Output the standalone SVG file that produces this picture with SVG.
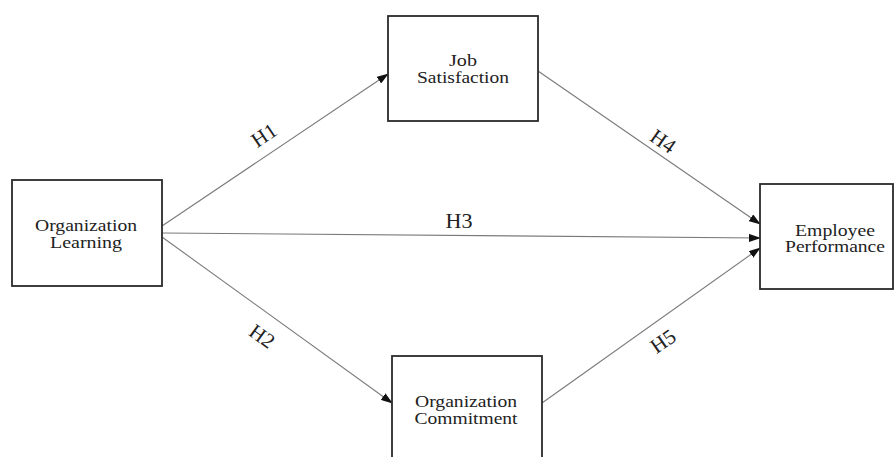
<svg xmlns="http://www.w3.org/2000/svg" width="896" height="457" viewBox="0 0 896 457">
<style>
.box{fill:#fff;stroke:#2a2a2a;stroke-width:1.8}
.t{font-family:"Liberation Serif","Times New Roman",serif;font-size:16px;fill:#222;text-anchor:middle}
.h{font-family:"Liberation Serif","Times New Roman",serif;font-size:21px;fill:#222;text-anchor:middle}
.c{stroke:#7a7a7a;stroke-width:1.1;fill:none;marker-end:url(#ah)}
</style>
<defs>
<marker id="ah" markerWidth="12" markerHeight="8" refX="11" refY="4" orient="auto" markerUnits="userSpaceOnUse">
<path d="M0,0 L12,4 L0,8 Z" fill="#111"/>
</marker>
</defs>
<rect width="896" height="457" fill="#fff"/>
<g id="connectors">
<line class="c" x1="162" y1="226" x2="388" y2="74"/>
<line class="c" x1="162" y1="233" x2="760" y2="238"/>
<line class="c" x1="162" y1="237" x2="392" y2="403"/>
<line class="c" x1="538" y1="71" x2="760" y2="224"/>
<line class="c" x1="542" y1="403" x2="760" y2="248"/>
<text class="h" transform="translate(268,141) rotate(-34)">H1</text>
<text class="h" transform="translate(459,228)" font-size="19" textLength="27" lengthAdjust="spacingAndGlyphs">H3</text>
<text class="h" transform="translate(258,342) rotate(36)">H2</text>
<text class="h" transform="translate(659,147) rotate(35)">H4</text>
<text class="h" transform="translate(667,347) rotate(-35)">H5</text>
</g>
<g id="organization-learning">
<rect class="box" x="12" y="180" width="150" height="106"/>
<text class="t" x="86" y="231" textLength="102" lengthAdjust="spacingAndGlyphs">Organization</text>
<text class="t" x="86" y="248" textLength="72" lengthAdjust="spacingAndGlyphs">Learning</text>
</g>
<g id="job-satisfaction">
<rect class="box" x="388" y="16" width="150" height="105"/>
<text class="t" x="463" y="66" textLength="28" lengthAdjust="spacingAndGlyphs">Job</text>
<text class="t" x="463" y="83" textLength="92" lengthAdjust="spacingAndGlyphs">Satisfaction</text>
</g>
<g id="organization-commitment">
<rect class="box" x="392" y="356" width="150" height="120"/>
<text class="t" x="466" y="407" textLength="102" lengthAdjust="spacingAndGlyphs">Organization</text>
<text class="t" x="466" y="424" textLength="103" lengthAdjust="spacingAndGlyphs">Commitment</text>
</g>
<g id="employee-performance">
<rect class="box" x="760" y="184" width="133" height="105"/>
<text class="t" x="835" y="236" textLength="80" lengthAdjust="spacingAndGlyphs">Employee</text>
<text class="t" x="835" y="252" textLength="100" lengthAdjust="spacingAndGlyphs">Performance</text>
</g>
</svg>
